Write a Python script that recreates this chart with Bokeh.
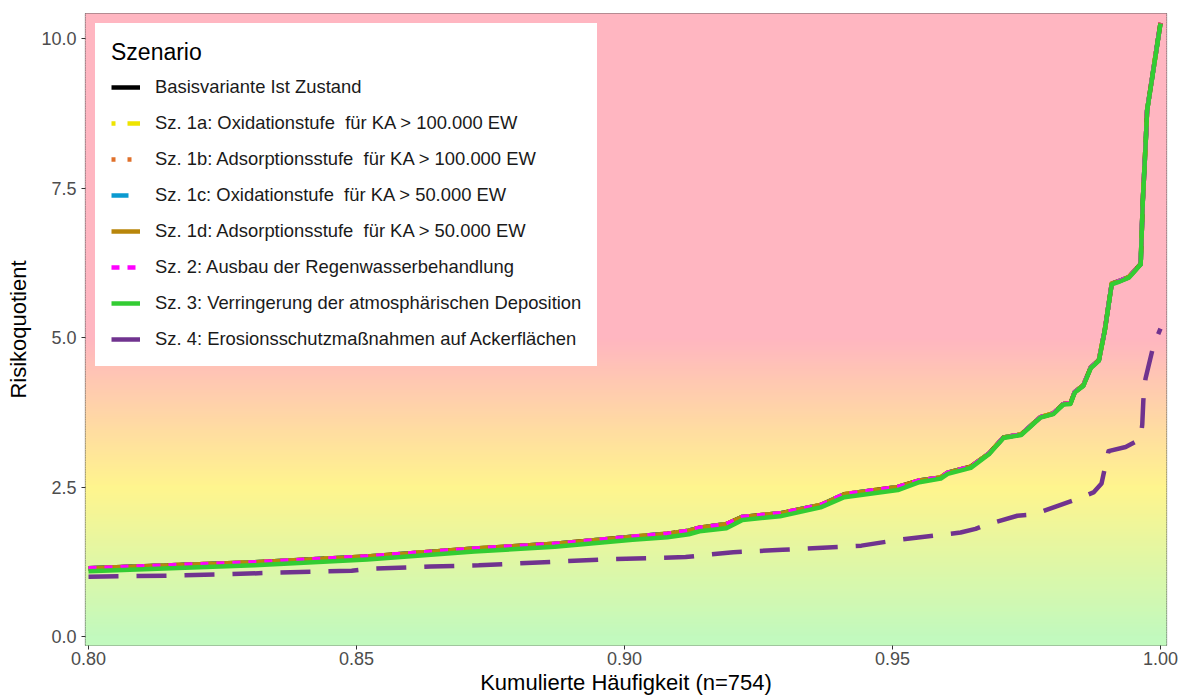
import numpy as np
from bokeh.plotting import figure
from bokeh.models import Range1d, FixedTicker, PrintfTickFormatter, Legend, LegendItem
from bokeh.embed import file_html
from bokeh.resources import INLINE

# ---- data ----
x_main = [0.800, 0.818, 0.831, 0.852, 0.872, 0.887, 0.9015, 0.908, 0.912, 0.914,
          0.919, 0.922, 0.929, 0.9366, 0.941, 0.951, 0.955, 0.959, 0.9603, 0.9646,
          0.968, 0.9707, 0.974, 0.9776, 0.980, 0.9819, 0.9832, 0.984, 0.9856, 0.987,
          0.9885, 0.9896, 0.9909, 0.9925, 0.9941, 0.9963, 0.9967, 0.9973, 0.9975, 0.9986, 1.000]
basis = [1.14, 1.20, 1.24, 1.34, 1.47, 1.55, 1.67, 1.72, 1.77, 1.82,
         1.88, 2.00, 2.06, 2.20, 2.38, 2.50, 2.61, 2.66, 2.74, 2.84,
         3.06, 3.33, 3.38, 3.67, 3.73, 3.89, 3.90, 4.09, 4.20, 4.50,
         4.62, 5.12, 5.90, 5.95, 6.01, 6.23, 7.29, 8.38, 8.80, 9.44, 10.26]
sz1a = [1.14, 1.20, 1.24, 1.34, 1.47, 1.55, 1.67, 1.72, 1.77, 1.82,
        1.88, 2.00, 2.06, 2.20, 2.38, 2.50, 2.61, 2.66, 2.74, 2.84,
        3.06, 3.33, 3.38, 3.67, 3.73, 3.89, 3.90, 4.09, 4.20, 4.50,
        4.62, 5.12, 5.90, 5.95, 6.01, 6.23, 7.29, 8.38, 8.80, 9.44, 10.26]
sz1b = [1.14, 1.20, 1.24, 1.34, 1.47, 1.55, 1.67, 1.72, 1.77, 1.82,
        1.88, 2.00, 2.06, 2.20, 2.38, 2.50, 2.61, 2.66, 2.74, 2.84,
        3.06, 3.33, 3.38, 3.67, 3.73, 3.89, 3.90, 4.09, 4.20, 4.50,
        4.62, 5.12, 5.90, 5.95, 6.01, 6.23, 7.29, 8.38, 8.80, 9.44, 10.26]
sz1c = [1.14, 1.20, 1.24, 1.34, 1.47, 1.55, 1.67, 1.72, 1.77, 1.82,
        1.88, 2.00, 2.06, 2.20, 2.38, 2.50, 2.61, 2.66, 2.74, 2.84,
        3.06, 3.33, 3.38, 3.67, 3.73, 3.89, 3.90, 4.09, 4.20, 4.50,
        4.62, 5.12, 5.90, 5.95, 6.01, 6.23, 7.29, 8.38, 8.80, 9.44, 10.26]
sz1d = [1.14, 1.20, 1.24, 1.34, 1.47, 1.55, 1.67, 1.72, 1.77, 1.82,
        1.88, 2.00, 2.06, 2.20, 2.38, 2.50, 2.61, 2.66, 2.74, 2.84,
        3.06, 3.33, 3.38, 3.67, 3.73, 3.89, 3.90, 4.09, 4.20, 4.50,
        4.62, 5.12, 5.90, 5.95, 6.01, 6.23, 7.29, 8.38, 8.80, 9.44, 10.26]
sz2 = [1.14, 1.20, 1.24, 1.34, 1.47, 1.55, 1.67, 1.72, 1.77, 1.82,
       1.88, 2.00, 2.06, 2.20, 2.38, 2.50, 2.61, 2.66, 2.74, 2.84,
       3.06, 3.33, 3.38, 3.67, 3.73, 3.89, 3.90, 4.09, 4.20, 4.50,
       4.62, 5.12, 5.90, 5.95, 6.01, 6.23, 7.29, 8.38, 8.80, 9.44, 10.26]
sz3 = [1.09, 1.15, 1.19, 1.29, 1.42, 1.50, 1.62, 1.66, 1.71, 1.76,
       1.81, 1.95, 2.01, 2.16, 2.33, 2.45, 2.58, 2.64, 2.72, 2.82,
       3.05, 3.32, 3.37, 3.66, 3.72, 3.88, 3.89, 4.08, 4.19, 4.49,
       4.61, 5.11, 5.89, 5.94, 6.00, 6.22, 7.28, 8.37, 8.79, 9.43, 10.25]
x_sz4 = [0.800, 0.8162, 0.8252, 0.8341, 0.8491, 0.852, 0.8638, 0.8728, 0.8817, 0.8965,
         0.9114, 0.9203, 0.9295, 0.9442, 0.9506, 0.959, 0.9627, 0.9655, 0.9675, 0.9733,
         0.9763, 0.9845, 0.9875, 0.989, 0.9903, 0.9935, 0.9963, 0.9966, 0.9968, 0.9972,
         0.9987, 1.000]
sz4 = [1.00, 1.02, 1.04, 1.065, 1.10, 1.13, 1.17, 1.19, 1.23, 1.29,
       1.33, 1.41, 1.45, 1.52, 1.61, 1.70, 1.74, 1.80, 1.87, 2.02,
       2.04, 2.30, 2.41, 2.56, 3.10, 3.17, 3.30, 3.55, 3.95, 4.31,
       4.87, 5.15]

labels = ["Basisvariante Ist Zustand",
          "Sz. 1a: Oxidationstufe  für KA > 100.000 EW",
          "Sz. 1b: Adsorptionsstufe  für KA > 100.000 EW",
          "Sz. 1c: Oxidationstufe  für KA > 50.000 EW",
          "Sz. 1d: Adsorptionsstufe  für KA > 50.000 EW",
          "Sz. 2: Ausbau der Regenwasserbehandlung",
          "Sz. 3: Verringerung der atmosphärischen Deposition",
          "Sz. 4: Erosionsschutzmaßnahmen auf Ackerflächen"]
x_ticks = [0.80, 0.85, 0.90, 0.95, 1.00]
y_ticks = [0.0, 2.5, 5.0, 7.5, 10.0]

FONT = "Liberation Sans"

p = figure(width=1187, height=697, output_backend="svg", toolbar_location=None,
           x_range=Range1d(0.79944, 1.00112), y_range=Range1d(-0.15, 10.418),
           min_border_left=85, min_border_right=21, min_border_top=13, min_border_bottom=50)

# background gradient (green -> yellow -> pink)
edges = np.arange(-0.4, 10.65, 0.04)
bot = edges[:-1]
top = edges[1:] + 0.015
mid = (edges[:-1] + edges[1:]) / 2
stops = [0.0, 2.5, 5.0]
rr = np.interp(mid, stops, [194, 255, 255])
gg = np.interp(mid, stops, [250, 245, 182])
bb = np.interp(mid, stops, [190, 142, 193])
cols = ["#%02x%02x%02x" % (int(a), int(b), int(c)) for a, b, c in zip(rr, gg, bb)]
p.quad(left=0.79, right=1.01, bottom=bot, top=top, fill_color=cols, line_color=None)

LW = 4.5
styles = [
    (basis, x_main, "#000000", "solid"),
    (sz1a, x_main, "#EEE400", "4 12 16 12"),
    (sz1b, x_main, "#E0702A", "4 12"),
    (sz1c, x_main, "#0A9AD0", "17 14"),
    (sz1d, x_main, "#B8860B", "solid"),
    (sz2, x_main, "#FF00FF", "8 8"),
    (sz3, x_main, "#33CC33", "solid"),
    (sz4, x_sz4, "#70338F", "30 18"),
]
items = []
for lab, (ys, xs, col, dash) in zip(labels, styles):
    r = p.line(xs, ys, line_color=col, line_width=LW, line_dash=dash, line_join="round")
    items.append(LegendItem(label=lab, renderers=[r]))

legend = Legend(items=items, location="top_left", margin=10, padding=15,
                title="Szenario", title_text_font=FONT, title_text_font_size="23px",
                title_text_font_style="normal", title_text_color="#000000", title_standoff=10,
                label_text_font=FONT, label_text_font_size="18.4px", label_text_color="#1a1a1a",
                label_height=20, glyph_height=20, glyph_width=29, label_standoff=15, spacing=14,
                background_fill_color="white", background_fill_alpha=1.0,
                border_line_color="white", border_line_alpha=1.0, border_line_width=1)
p.add_layout(legend)

p.xaxis.ticker = FixedTicker(ticks=x_ticks)
p.yaxis.ticker = FixedTicker(ticks=y_ticks)
p.xaxis.formatter = PrintfTickFormatter(format="%.2f")
p.yaxis.formatter = PrintfTickFormatter(format="%.1f")
p.xaxis.axis_label = "Kumulierte Häufigkeit (n=754)"
p.yaxis.axis_label = "Risikoquotient"
for ax in (p.xaxis, p.yaxis):
    ax.axis_line_color = None
    ax.major_tick_line_color = "#333333"
    ax.major_tick_out = 4
    ax.major_tick_in = 0
    ax.minor_tick_line_color = None
    ax.major_label_text_font = FONT
    ax.major_label_text_font_size = "18px"
    ax.major_label_text_color = "#4d4d4d"
    ax.axis_label_text_font = FONT
    ax.axis_label_text_font_size = "22px"
    ax.axis_label_text_font_style = "normal"
    ax.axis_label_text_color = "#000000"
    ax.major_label_standoff = 2
    ax.axis_label_standoff = 2
p.yaxis.major_label_standoff = 5
p.yaxis.axis_label_standoff = 7

p.xgrid.grid_line_color = None
p.ygrid.grid_line_color = None
p.outline_line_color = "#555555"
p.outline_line_width = 1.2
p.background_fill_color = "#ffb6c1"

open("out.html", "w").write(file_html(p, INLINE))
